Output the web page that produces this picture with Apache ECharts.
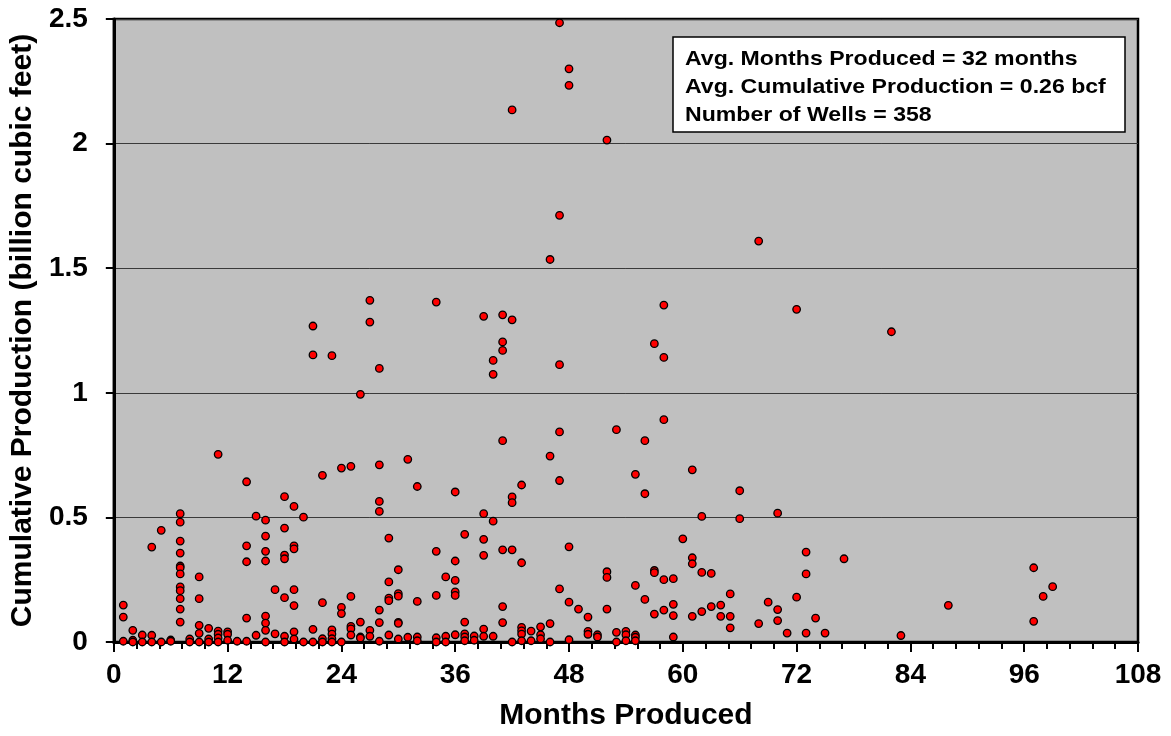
<!DOCTYPE html>
<html>
<head>
<meta charset="utf-8">
<script src="https://cdn.jsdelivr.net/npm/echarts@6/dist/echarts.min.js"></script>
<style>
html,body{margin:0;padding:0;background:#ffffff;}
#c{width:1171px;height:736px;}
</style>
</head>
<body>
<div id="c"></div>
<script>
const monthList = [1,2,3,4,5,6,7,8,9,10,11,12,13,14,15,16,17,18,19,20,
  21,22,23,24,25,26,27,28,29,30,31,32,34,35,36,37,38,39,40,
  41,42,43,44,45,46,47,48,49,50,51,52,53,54,55,56,57,58,59,60,
  61,62,63,64,65,66,68,69,70,71,72,73,74,75,77,82,83,88,97,98,99];

// Cumulative production (bcf) of the wells at each month in monthList
const productionByMonth = [
  [0.148,0.100,0.003],            // 1
  [0.047,0.007,0.000],            // 2
  [0.028,0.000],                  // 3
  [0.381,0.027,0.000],            // 4
  [0.448,0.000],                  // 5
  [0.008,0.003],                  // 6
  [0.515,0.481,0.405,0.357,0.305,0.298,0.273,0.221,0.206,0.174,0.132,0.080], // 7
  [0.012,0.000],                  // 8
  [0.261,0.174,0.067,0.035,0.000],// 9
  [0.055,0.012,0.000],            // 10
  [0.753,0.044,0.031,0.016,0.000],// 11
  [0.041,0.031,0.007],            // 12
  [0.003],                        // 13
  [0.643,0.386,0.322,0.096,0.003],// 14
  [0.505,0.027],                  // 15
  [0.489,0.425,0.364,0.325,0.104,0.076,0.047,0.000], // 16
  [0.210,0.033],                  // 17
  [0.583,0.457,0.349,0.334,0.178,0.023,0.000], // 18
  [0.544,0.386,0.374,0.210,0.146,0.041,0.012], // 19
  [0.501,0.000],                  // 20
  [1.268,1.152,0.051,0.000],      // 21
  [0.669,0.158,0.013,0.000],      // 22
  [1.149,0.049,0.032,0.013,0.000],// 23
  [0.698,0.139,0.114,0.000],      // 24
  [0.705,0.183,0.063,0.053,0.028],// 25
  [0.994,0.080,0.020,0.016],      // 26
  [1.371,1.284,0.047,0.023],      // 27
  [1.098,0.711,0.564,0.524,0.128,0.078,0.003], // 28
  [0.417,0.241,0.176,0.166,0.028],// 29
  [0.290,0.194,0.184,0.079,0.075,0.012], // 30
  [0.733,0.019],                  // 31
  [0.624,0.163,0.020,0.005],      // 32
  [1.364,0.364,0.187,0.017,0.000],// 34
  [0.261,0.023,0.000],            // 35
  [0.602,0.325,0.247,0.201,0.187,0.029], // 36
  [0.432,0.080,0.033,0.020,0.005],// 37
  [0.024,0.007],                  // 38
  [1.307,0.515,0.412,0.348,0.052,0.023], // 39
  [1.130,1.074,0.485,0.023],      // 40
  [1.313,1.204,1.170,0.808,0.370,0.142,0.078], // 41
  [2.135,1.293,0.582,0.559,0.370,0.000], // 42
  [0.630,0.318,0.059,0.045,0.032,0.005], // 43
  [0.044,0.005],                  // 44
  [0.061,0.029,0.013],            // 45
  [1.535,0.746,0.074,0.000],      // 46
  [2.485,1.712,1.113,0.843,0.648,0.213], // 47
  [2.300,2.234,0.382,0.160,0.009],// 48
  [0.132],                        // 49
  [0.100,0.043,0.031],            // 50
  [0.029,0.020],                  // 51
  [2.014,0.282,0.259,0.132],      // 52
  [0.852,0.039,0.000],            // 53
  [0.043,0.029,0.005],            // 54
  [0.673,0.227,0.028,0.019,0.005],// 55
  [0.808,0.595,0.171],            // 56
  [1.197,0.287,0.278,0.112],      // 57
  [1.352,1.142,0.892,0.250,0.128],// 58
  [0.254,0.151,0.106,0.020],      // 59
  [0.414],                        // 60
  [0.691,0.338,0.314,0.103],      // 61
  [0.504,0.279,0.122],            // 62
  [0.275,0.142],                  // 63
  [0.148,0.103],                  // 64
  [0.193,0.103,0.057],            // 65
  [0.607,0.495],                  // 66
  [1.609,0.074],                  // 68
  [0.160],                        // 69
  [0.517,0.130,0.086],            // 70
  [0.036],                        // 71
  [1.335,0.180],                  // 72
  [0.361,0.273,0.036],            // 73
  [0.096],                        // 74
  [0.036],                        // 75
  [0.334],                        // 77
  [1.245],                        // 82
  [0.026],                        // 83
  [0.147],                        // 88
  [0.298,0.083],                  // 97
  [0.183],                        // 98
  [0.222]                         // 99
];

const xTicks = [0,12,24,36,48,60,72,84,96,108];
const yTicks = [0,0.5,1,1.5,2,2.5];
const statLines = [
  'Avg. Months Produced = 32 months',
  'Avg. Cumulative Production = 0.26 bcf',
  'Number of Wells = 358'
];
const xTitle = 'Months Produced';
const yTitle = 'Cumulative Production (billion cubic feet)';

const points = [];
monthList.forEach(function (m, i) {
  productionByMonth[i].forEach(function (v) { points.push([m, v]); });
});

const FONT = '"Liberation Sans", Arial, Helvetica, sans-serif';
const chart = echarts.init(document.getElementById('c'), null, { renderer: 'canvas' });
chart.setOption({
  animation: false,
  backgroundColor: '#ffffff',
  grid: {
    left: 112, top: 19, width: 1026, height: 624.5,
    show: true, backgroundColor: '#C0C0C0',
    borderColor: '#000000', borderWidth: 2.5
  },
  xAxis: {
    type: 'value',
    min: xTicks[0], max: xTicks[xTicks.length - 1], interval: xTicks[1] - xTicks[0],
    axisLine: { show: true, onZero: false, lineStyle: { color: '#000', width: 3 } },
    axisTick: { show: true, inside: false, length: 10, lineStyle: { color: '#000', width: 2 } },
    minorTick: { show: true, splitNumber: 5, length: 7, lineStyle: { color: '#000', width: 2 } },
    splitLine: { show: false },
    axisLabel: { color: '#000', fontFamily: FONT, fontWeight: 'bold', fontSize: 28, margin: 19 },
    name: xTitle, nameLocation: 'middle', nameGap: 59,
    nameTextStyle: { color: '#000', fontFamily: FONT, fontWeight: 'bold', fontSize: 30 }
  },
  yAxis: {
    type: 'value',
    min: yTicks[0], max: yTicks[yTicks.length - 1], interval: yTicks[1] - yTicks[0],
    axisLine: { show: true, onZero: false, lineStyle: { color: '#000', width: 3 } },
    axisTick: { show: true, inside: false, length: 8, lineStyle: { color: '#000', width: 2 } },
    splitLine: { show: true, lineStyle: { color: '#3a3a3a', width: 1 } },
    axisLabel: { color: '#000', fontFamily: FONT, fontWeight: 'bold', fontSize: 28, margin: 26 },
    name: yTitle, nameLocation: 'middle', nameGap: 70, nameRotate: 90,
    nameTextStyle: { color: '#000', fontFamily: FONT, fontWeight: 'bold', fontSize: 30 }
  },
  series: [{
    type: 'scatter',
    data: points,
    symbol: 'circle',
    symbolSize: 7.5,
    clip: false,
    itemStyle: { color: '#FF0000', borderColor: '#000000', borderWidth: 1.3, opacity: 1 }
  }],
  graphic: [
    {
      type: 'rect', z: 100,
      shape: { x: 673, y: 37, width: 452, height: 95 },
      style: { fill: '#ffffff', stroke: '#000000', lineWidth: 1.5 }
    },
    {
      type: 'text', z: 101, x: 685, y: 45, scaleX: 1.1,
      style: {
        text: statLines.join('\n'), fill: '#000',
        fontFamily: FONT, fontWeight: 'bold', fontSize: 21, lineHeight: 28,
        verticalAlign: 'top', align: 'left'
      }
    }
  ]
});
</script>
</body>
</html>
